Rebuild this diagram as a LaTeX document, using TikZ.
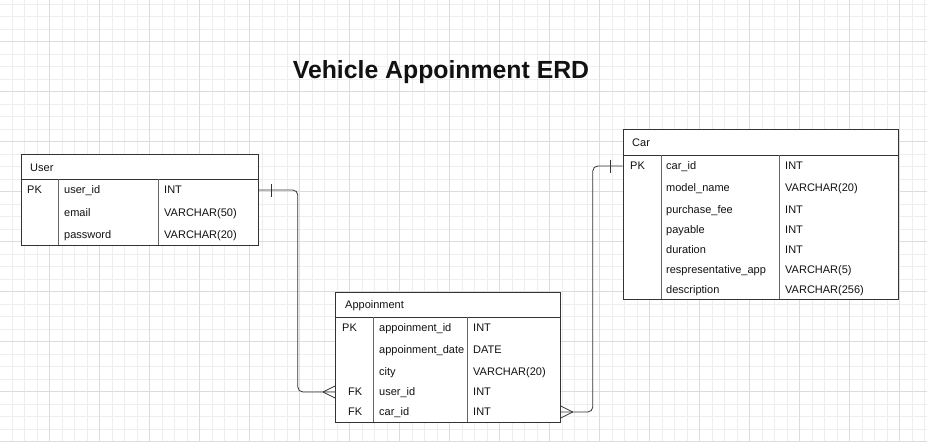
\documentclass[tikz,border=0pt]{standalone}
\usepackage{fontspec}
\setmainfont{Liberation Sans}
\usetikzlibrary{calc,positioning}
\definecolor{gridminor}{HTML}{EEEEEE}
\definecolor{gridmajor}{HTML}{DCDCDC}
\definecolor{linedark}{HTML}{333333}
\definecolor{linegray}{HTML}{666666}
\definecolor{textdark}{HTML}{111111}

\begin{document}
\begin{tikzpicture}[
    x=1pt, y=-1pt,
    every node/.style={font=\fontsize{11}{13}\selectfont, text=textdark, inner sep=0pt},
    tablebox/.style={
      rectangle, draw=linedark, fill=white, line width=0.8pt, anchor=north west
    },
    headbox/.style={
      rectangle, draw=linedark, line width=0.8pt, anchor=north west,
      minimum height=25pt
    },
    cell/.style={anchor=west, text height=8pt, text depth=2pt, yshift=-1pt},
    divider/.style={draw=linegray, line width=0.8pt},
    relline/.style={draw=linedark, line width=0.8pt, rounded corners=5pt},
    tipline/.style={draw=linedark, line width=0.8pt}
  ]
    % ── Canvas and grid ──
    \useasboundingbox[fill=white] (0,0) rectangle (927,442);
    \foreach \gx in {12,24.5,...,927} \draw[gridminor] (\gx,0) -- (\gx,442);
    \foreach \gy in {3.8,16.3,...,442} \draw[gridminor] (0,\gy) -- (927,\gy);
    \foreach \gx in {49.5,99.5,...,927} \draw[gridmajor] (\gx,0) -- (\gx,442);
    \foreach \gy in {41.3,91.3,...,442} \draw[gridmajor] (0,\gy) -- (927,\gy);

    % ── Title ──
    \node[font=\fontsize{24.8}{28}\selectfont\bfseries] (title) at (441,72.5)
      {Vehicle Appoinment ERD};

    % ── User table ──
    \node[tablebox, minimum width=237pt, minimum height=91pt] (user) at (21,154) {};
    \node[headbox, minimum width=237pt] (userhead) at (user.north west) {};
    \node[cell] (uhead) at (30,167) {User};
    \draw[divider] (58,179) -- (58,245);
    \draw[divider] (158,179) -- (158,245);
    \node[cell] (upk)  at (27,189) {PK};
    \node[cell] (uid)  at (64,189) {user\_id};
    \node[cell] (uidt) at (164,189) {INT};
    \node[cell] (uem)  at (64,212) {email};
    \node[cell] (uemt) at (164,212) {VARCHAR(50)};
    \node[cell] (upw)  at (64,234) {password};
    \node[cell] (upwt) at (164,234) {VARCHAR(20)};

    % ── Appoinment table ──
    \node[tablebox, minimum width=225pt, minimum height=130pt] (appt) at (335,291.7) {};
    \node[headbox, minimum width=225pt] (appthead) at (appt.north west) {};
    \node[cell] (ahead) at (345,304) {Appoinment};
    \draw[divider] (373,316.7) -- (373,421.7);
    \draw[divider] (467,316.7) -- (467,421.7);
    \node[cell] (apk)   at (342,327) {PK};
    \node[cell] (aid)   at (379,327) {appoinment\_id};
    \node[cell] (aidt)  at (473,327) {INT};
    \node[cell] (adt)   at (379,349) {appoinment\_date};
    \node[cell] (adtt)  at (473,349) {DATE};
    \node[cell] (acity) at (379,371) {city};
    \node[cell] (acityt) at (473,371) {VARCHAR(20)};
    \node[cell] (afk1)  at (348,391) {FK};
    \node[cell] (auid)  at (379,391) {user\_id};
    \node[cell] (auidt) at (473,391) {INT};
    \node[cell] (afk2)  at (348,411) {FK};
    \node[cell] (acid)  at (379,411) {car\_id};
    \node[cell] (acidt) at (473,411) {INT};

    % ── Car table ──
    \node[tablebox, minimum width=275pt, minimum height=170pt] (car) at (622.5,129.3) {};
    \node[headbox, minimum width=275pt, minimum height=26pt] (carhead) at (car.north west) {};
    \node[cell] (chead) at (632,142) {Car};
    \draw[divider] (661,155.3) -- (661,299.3);
    \draw[divider] (779,155.3) -- (779,299.3);
    \node[cell] (cpk)   at (630,165) {PK};
    \node[cell] (cid)   at (666,165) {car\_id};
    \node[cell] (cidt)  at (785,165) {INT};
    \node[cell] (cmod)  at (666,187) {model\_name};
    \node[cell] (cmodt) at (785,187) {VARCHAR(20)};
    \node[cell] (cfee)  at (666,209) {purchase\_fee};
    \node[cell] (cfeet) at (785,209) {INT};
    \node[cell] (cpay)  at (666,229) {payable};
    \node[cell] (cpayt) at (785,229) {INT};
    \node[cell] (cdur)  at (666,249) {duration};
    \node[cell] (cdurt) at (785,249) {INT};
    \node[cell] (crep)  at (666,269) {respresentative\_app};
    \node[cell] (crept) at (785,269) {VARCHAR(5)};
    \node[cell] (cdesc) at (666,289) {description};
    \node[cell] (cdesct) at (785,289) {VARCHAR(256)};

    % ── Relations ──
    \draw[relline] (uidt -| user.east) -- ++(39,0) |- (auid -| appt.west);
    \draw[tipline] ($(uidt -| user.east)+(12.5,-6.5)$) -- ++(0,13);
    \draw[tipline] ($(auid -| appt.west)+(-12,0)$) -- ($(auid -| appt.west)+(0,-6)$);
    \draw[tipline] ($(auid -| appt.west)+(-12,0)$) -- ($(auid -| appt.west)+(0,6)$);

    \draw[relline] (acidt -| appt.east) -- ++(32,0) |- (cidt -| car.west);
    \draw[tipline] ($(cidt -| car.west)+(-12.5,-6.5)$) -- ++(0,13);
    \draw[tipline] ($(acidt -| appt.east)+(12,0)$) -- ($(acidt -| appt.east)+(0,-6)$);
    \draw[tipline] ($(acidt -| appt.east)+(12,0)$) -- ($(acidt -| appt.east)+(0,6)$);

  \end{tikzpicture}
\end{document}
